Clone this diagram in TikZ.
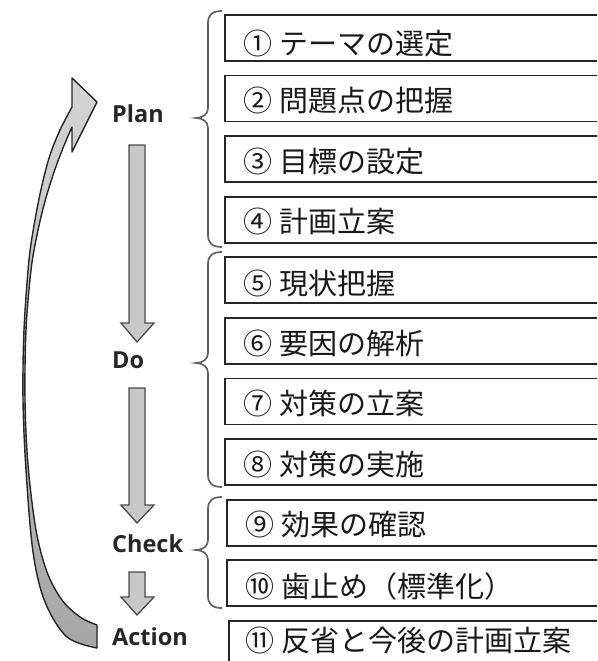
\documentclass[tikz,border=0pt]{standalone}
\usepackage{fontspec}
\newfontfamily\jpfont{Noto Sans CJK JP}
\newfontfamily\labfont{Open Sans}
\definecolor{arrowgray}{HTML}{C8C8C8}
\definecolor{curvetop}{HTML}{D4D4D4}
\definecolor{curvebottom}{HTML}{A6A6A6}
\definecolor{edgegray}{HTML}{4A4A4A}
\definecolor{boxline}{HTML}{262626}
\definecolor{bracegray}{HTML}{606060}
\tikzset{
  stepbox/.style={draw=boxline, line width=1.8pt, fill=white, rectangle, inner sep=0pt,
    anchor=north west, minimum width=420pt, minimum height=46pt},
  jt/.style={font=\jpfont\fontsize{29}{31}\selectfont, text=black!90, inner sep=0pt, anchor=west},
  phase/.style={font=\labfont\bfseries\fontsize{23.5}{25}\selectfont, text=black!85, inner sep=0pt, anchor=base west},
  blockarrow/.style={fill=arrowgray, draw=edgegray, line width=1.3pt, line join=miter},
  curvearrow/.style={top color=curvetop, bottom color=curvebottom, draw=black!85, line width=1.4pt, line join=round},
  bracepath/.style={draw=bracegray, line width=1.7pt},
}
\newcommand{\dnarrow}[3]{% top, head base, tip
  \filldraw[blockarrow] (129,#1) -- (145,#1) -- (145,#2) -- (154,#2) -- (137,#3) -- (121,#2) -- (129,#2) -- cycle;}
\newcommand{\phasebrace}[3]{% top, tip, bottom
  \draw[bracepath] (222,#1) .. controls (212,#1) and (208,#1+4) .. (208,#1+12)
    -- (208,#2-10) .. controls (208,#2-4) and (203,#2) .. (196,#2)
    .. controls (203,#2) and (208,#2+4) .. (208,#2+10)
    -- (208,#3-12) .. controls (208,#3-4) and (212,#3) .. (222,#3);}
\begin{document}
\begin{tikzpicture}[x=1pt,y=-1pt]
\useasboundingbox (0,0) rectangle (597,661);
\clip (0,0) rectangle (597,661);
% boxes
\foreach \i/\t/\x/\d/\txt in {
  1/14/224/6/{①\hspace{7pt}テーマの選定},
  2/74.6/224/2/{②\hspace{7pt}問題点の把握},
  3/135.2/224/2/{③\hspace{7pt}目標の設定},
  4/195.8/224/2/{④\hspace{7pt}計画立案},
  5/256.4/224/3/{⑤\hspace{7pt}現状把握},
  6/317/224/3/{⑥\hspace{7pt}要因の解析},
  7/377.6/224/2/{⑦\hspace{7pt}対策の立案},
  8/438.2/224/2/{⑧\hspace{7pt}対策の実施},
  9/498.8/226/2/{⑨\hspace{7pt}効果の確認},
  10/559.4/226/3/{⑩\hspace{7pt}歯止め（標準化）}}{
  \node[stepbox] (b\i) at (\x,\t) {};
  \node[jt] (t\i) at ([xshift=19pt, yshift=-\d pt]b\i.west) {\txt};
}
\node[stepbox, minimum height=80pt] (b11) at (228,620) {};
\node[jt] (t11) at (245,640) {⑪\hspace{7pt}反省と今後の計画立案};
% braces
\phasebrace{11}{118}{247}
\phasebrace{252}{363}{487}
\phasebrace{497}{550}{608}
% phase labels
\node[phase] (plan) at (112,122) {Plan};
\node[phase] (do) at (112,368) {Do};
\node[phase] (check) at (112,552) {Check};
\node[phase] (action) at (112,645) {Action};
% down arrows
\dnarrow{145}{323}{342}
\dnarrow{388}{505}{523}
\dnarrow{572}{597}{615}
% curved return arrow
\filldraw[curvearrow]
  (97,625) -- (97,648)
  -- plot[smooth, tension=0.55] coordinates {(97,648) (67,637) (45,602) (33,552) (26,470) (23,400) (24,330) (29,260) (35,220) (42,185) (50,155) (60,130) (72,107)}
  -- (72,78) -- (97,102) -- (72,152) -- (72,127)
  -- plot[smooth, tension=0.55] coordinates {(72,127) (63,148) (53,175) (44,205) (37,235) (31,270) (26,330) (25,400) (28,465) (36,530) (47,572) (62,600) (80,617) (97,625)}
  -- cycle;
\end{tikzpicture}
\end{document}
